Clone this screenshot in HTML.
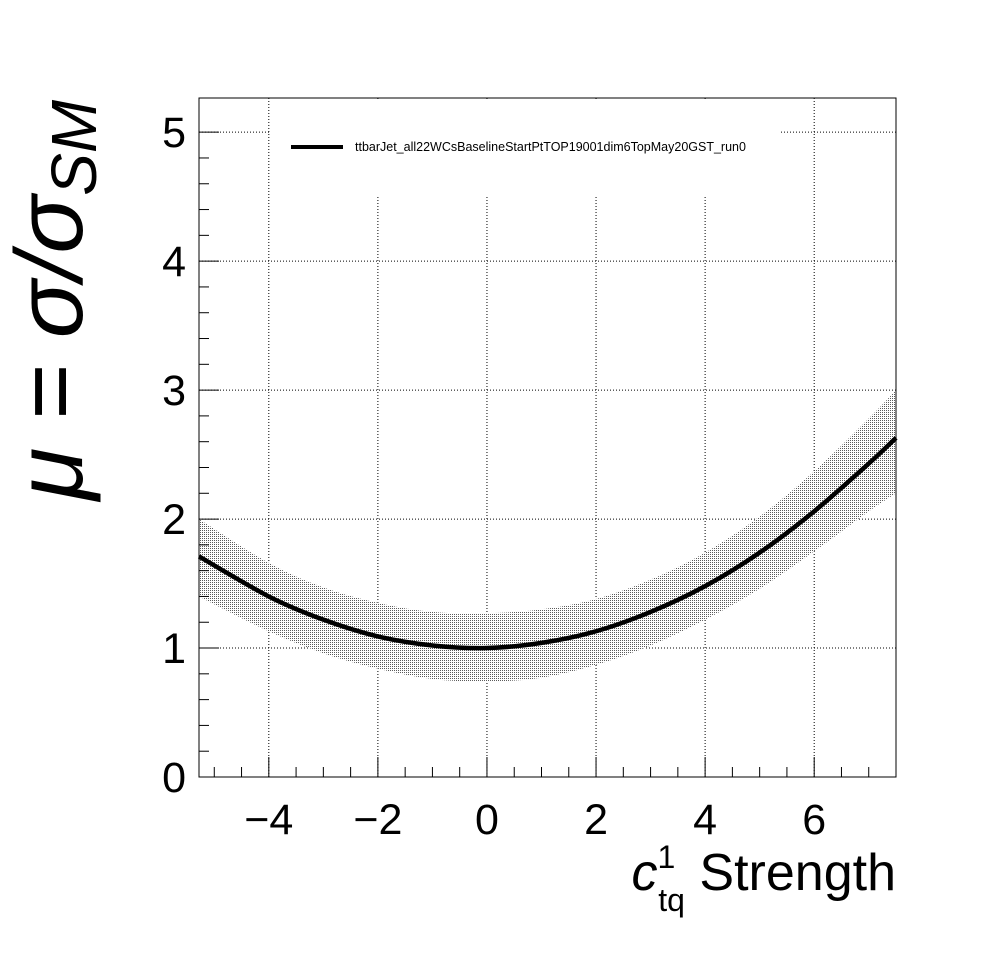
<!DOCTYPE html>
<html><head><meta charset="utf-8"><style>
body{margin:0;background:#fff}
svg{display:block;font-family:"Liberation Sans",Arial,sans-serif}
</style></head><body>
<svg id="chart" width="996" height="972" viewBox="0 0 996 972" xmlns="http://www.w3.org/2000/svg">
<defs>
<pattern id="dots" width="2" height="2" patternUnits="userSpaceOnUse">
<rect width="2" height="2" fill="#fff"/><rect width="1" height="1" fill="#5a5a5a"/>
</pattern>
</defs>
<rect width="996" height="972" fill="#fff"/>
<g id="grid"></g>
<g id="band"></g>
<g id="line"></g>
<rect x="270" y="99" width="510" height="96" fill="#fff"/>
<g>
<line x1="291" y1="147" x2="343" y2="147" stroke="#000" stroke-width="4"/>
<text x="355" y="151" font-size="12.5">ttbarJet_all22WCsBaselineStartPtTOP19001dim6TopMay20GST_run0</text>
</g>
<g id="axes"></g>
<text transform="translate(82,300) rotate(-90)" text-anchor="middle" font-size="96" font-style="italic">μ = σ/σ<tspan font-size="64" dy="14">SM</tspan></text>
<text x="896" y="890" text-anchor="end" font-size="52"><tspan font-style="italic">c</tspan><tspan font-size="32" dy="-22">1</tspan><tspan font-size="32" dx="-17" dy="43">tq</tspan><tspan dy="-21"> Strength</tspan></text>
</svg>
<script>
const xs=[-5.25,-4,-3,-2,-1,0,1,2,3,4,5,6,7,7.5];
const mu=[1.71,1.40,1.22,1.09,1.02,1.00,1.04,1.13,1.28,1.48,1.74,2.06,2.43,2.63];
const upper=[2.00,1.66,1.47,1.35,1.28,1.27,1.30,1.38,1.53,1.74,2.02,2.37,2.78,3.00];
const lower=[1.40,1.13,0.96,0.84,0.76,0.74,0.77,0.87,1.02,1.22,1.46,1.75,2.06,2.20];
const xTicks=[-4,-2,0,2,4,6];
const xTickLabels=["\u22124","\u22122","0","2","4","6"];
const yTicks=[0,1,2,3,4,5];
const yTickLabels=["0","1","2","3","4","5"];
const X0=199,X1=896,Y0=777,Y1=98,XMIN=-5.28,XMAX=7.5,YMIN=0,YMAX=5.265;
const sx=v=>X0+(v-XMIN)/(XMAX-XMIN)*(X1-X0);
const sy=v=>Y0-(v-YMIN)/(YMAX-YMIN)*(Y0-Y1);
const NS="http://www.w3.org/2000/svg";
function mk(tag,attrs,parent){const e=document.createElementNS(NS,tag);for(const k in attrs)e.setAttribute(k,attrs[k]);document.getElementById(parent).appendChild(e);return e;}
function smooth(px,py){let d=`M${px[0]},${py[0]}`;for(let i=0;i<px.length-1;i++){const p0=i?i-1:i,p3=i+2<px.length?i+2:i+1;const c1x=px[i]+(px[i+1]-px[p0])/6,c1y=py[i]+(py[i+1]-py[p0])/6;const c2x=px[i+1]-(px[p3]-px[i])/6,c2y=py[i+1]-(py[p3]-py[i])/6;d+=` C${c1x},${c1y} ${c2x},${c2y} ${px[i+1]},${py[i+1]}`;}return d;}
function clampX(v){return Math.max(XMIN,Math.min(XMAX,v));}
const px=xs.map(v=>sx(clampX(v)));px[0]=X0;px[px.length-1]=X1;
xTicks.forEach(t=>{const g=mk('line',{x1:sx(t),x2:sx(t),y1:Y1,y2:Y0,stroke:'#000','stroke-width':1,'stroke-dasharray':'1,2'},'grid');});
yTicks.forEach(t=>{const g=mk('line',{x1:X0,x2:X1,y1:sy(t),y2:sy(t),stroke:'#000','stroke-width':1,'stroke-dasharray':'1,2'},'grid');});
const up=smooth(px,upper.map(sy));const lo=smooth(px.slice().reverse(),lower.map(sy).reverse());
const b=mk('path',{d:up+' L'+lo.slice(1)+' Z',fill:'url(#dots)',stroke:'none'},'band');

const l=mk('path',{d:smooth(px,mu.map(sy)),fill:'none',stroke:'#000','stroke-width':4.5},'line');

const fr=mk('rect',{x:X0,y:Y1,width:X1-X0,height:Y0-Y1,fill:'none',stroke:'#000','stroke-width':1},'axes');

for(let v=-5;v<=7.5;v+=0.5){const major=Math.abs(v%2)<1e-9;const t=mk('line',{x1:sx(v),x2:sx(v),y1:Y0,y2:Y0-(major?20:10),stroke:'#000'},'axes');}
for(let v=0;v<=5.2;v+=0.2){const major=Math.abs(v-Math.round(v))<1e-6;const t=mk('line',{x1:X0,x2:X0+(major?20:10),y1:sy(v),y2:sy(v),stroke:'#000'},'axes');}
xTicks.forEach((t,i)=>{const e=mk('text',{x:sx(t),y:834,'text-anchor':'middle','font-size':43},'axes');e.textContent=xTickLabels[i];});
yTicks.forEach((t,i)=>{const e=mk('text',{x:186,y:sy(t)+15,'text-anchor':'end','font-size':43},'axes');e.textContent=yTickLabels[i];});
</script>
</body></html>
